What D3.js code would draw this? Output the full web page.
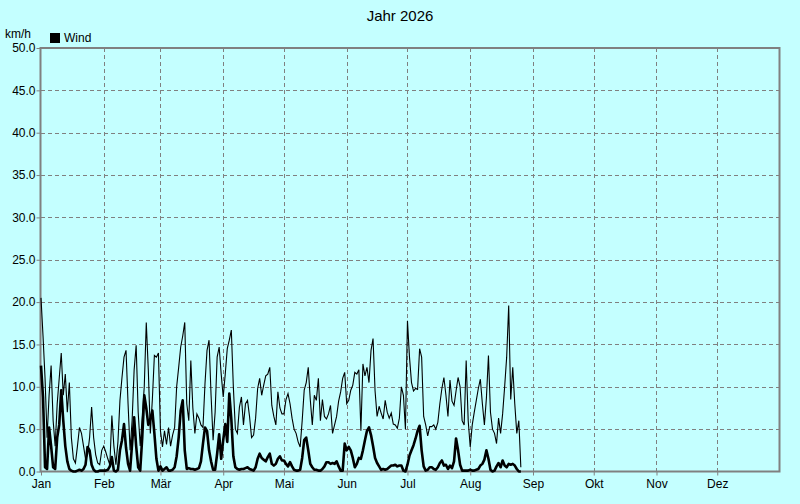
<!DOCTYPE html>
<html>
<head>
<meta charset="utf-8">
<script src="https://cdn.jsdelivr.net/npm/d3@7"></script>
<style>
  body { margin: 0; background: #c4ffff; }
  svg { display: block; font-family: "Liberation Sans", Arial, sans-serif; }
</style>
</head>
<body>
<svg class="chart" width="800" height="504"></svg>
<script>
// tageswerte ab 1. Januar (Index = Tag im Jahr)
var monthNames = ["Jan","Feb","Mär","Apr","Mai","Jun","Jul","Aug","Sep","Okt","Nov","Dez"];
var monthDays = [31,28,31,30,31,30,31,31,30,31,30,31];
var yTicks = [0,5,10,15,20,25,30,35,40,45,50];

// duenne Linie (Boeen)
var gust = [
  20.5,16,11,4,9,12.5,6,3,8,11,14,9,11.5,7,10.5,4,1.5,1,3,5.2,4.5,3,1.5,2,4,7.6,4,2,1,0.8,2.5,
  3,2.3,1.5,0.8,6.6,3,0.8,3.5,8.4,11.1,13.5,14.3,8,2.5,6,12,14.9,7,3,6.5,10,17.6,12,4.5,8.5,13.7,13.5,14,
  4.8,2.9,4.8,3.2,5.2,3,4.3,5.2,10,12.3,14.7,16,17.6,8,6,13.1,7.5,4.5,6.8,6.3,5.5,5.2,10.4,14.3,15.5,9,3.7,7,13.5,14.7,11.5,
  8.8,11.5,14.5,15.5,16.7,10,5,4.5,7.6,8.8,5.5,8,8.4,6.5,4,4.3,6.3,9.8,11,9,10.2,11.3,11.5,12.3,7.8,6.5,5.5,9.4,7.5,6.8,
  6.8,8.5,9.2,8,6.3,5,4.5,3.5,2.9,6,9.6,10.5,12.3,8.5,5.5,9,8.4,11,6,8.5,6.5,6.2,6.8,7.8,4.5,5.5,6.5,8.3,9.4,11,11.7,
  8,8.4,9.6,10.2,11.7,11.5,12,4.8,12.7,11.3,12.3,10.5,14.3,15.7,9.5,6.5,7.7,6.9,6.2,8.4,7,6.3,6.9,5.6,5.5,5.1,6.3,10,9,5,
  17.8,13.5,10.5,9.5,9.8,9.7,14.5,13.5,6.5,5.5,4.2,5.3,5.3,5.5,5,5.8,8,9.8,11.1,9,6.5,10.8,8.3,7.8,9.5,11.1,10,6,5.5,13.1,6,
  2.9,5.5,7,8.4,9.8,10.9,8,5.5,8.7,13.7,7,5,4.5,3.3,6.3,4.5,6.8,10,13.5,19.6,8.5,12.3,8,4.5,6,0.5
];

// dicke Linie (Mittel)
var wind = [
  12.5,8.8,0.5,0.3,5.2,3,0.5,0.3,4,5.5,9.6,6,3,1.2,0.3,0.1,0,0,0.1,0.2,0.1,0.3,0.8,2.9,2.5,0.8,0.2,0,0,0.1,0.1,
  0.1,0.1,0.2,0.6,1.7,0.1,0,0.2,2.5,3.7,5.6,2.8,0.9,0.1,3.3,6.4,3,0.5,0.1,4,9,7.5,5.5,6.2,7.2,4.5,1.5,0.1,
  0.6,0.1,0.3,0.5,0.1,0.1,0.2,0.5,1.8,4,7.2,8.4,2.5,0.3,0.4,0.3,0.3,0.2,0.3,0.4,1.2,3.3,5.2,4.8,2.5,1.2,0.2,0.2,2.1,4.4,1.5,
  3.7,5.6,3.5,9.2,6.2,1.8,0.5,0.3,0.2,0.3,0.3,0.4,0.5,0.3,0.2,0.1,0.5,1.5,2.1,1.6,1.4,1.2,1.7,2.1,0.9,0.7,0.9,1.5,1.8,1.3,
  1.3,0.9,0.6,1.1,0.6,0.2,0.1,0.1,0.2,1.6,3.7,4,2.5,0.9,0.5,0.2,0.2,0.1,0.1,0.3,0.6,1.1,1.1,0.9,1,0.9,1.2,0.6,0.1,0.1,3.3,
  2.5,2.9,2.5,1.6,0.5,0.9,1.6,1.5,2.5,3.7,4.8,5.2,4.3,3,1.6,1,0.6,0.2,0.3,0.2,0.3,0.5,0.7,0.7,0.8,0.6,0.7,0.7,0.1,0,
  0.8,1.9,2.5,3.1,3.9,4.8,5.4,2.5,0.6,0.1,0.2,0.5,0.5,0.3,0.2,0.5,1,1.3,0.7,0.8,0.3,0.7,0.4,1.2,3.9,2.5,0.8,0.1,0.1,0.1,0.1,
  0.2,0.1,0.1,0.2,0.3,0.7,0.9,1.4,2.5,1.5,0.2,0,0.1,0.6,1,0.5,1.3,0.7,0.5,0.9,0.8,0.9,0.7,0.3,0,0
];

var chart = d3.select(".chart"),
    plotLeft = 41, plotRight = 780, plotTop = 48, plotBottom = 471.5;

var xScale = d3.scaleLinear().domain([0, 365]).range([plotLeft, plotRight]);
var yScale = d3.scaleLinear().domain([0, 50]).range([plotBottom, plotTop]);

var monthStart = Array.from(d3.cumsum([0].concat(monthDays.slice(0, 11))));

// gitter
chart.append("g")
  .selectAll("line")
  .data(yTicks.filter(function(d){ return d > 0 && d < 50; }))
  .join("line")
    .attr("x1", plotLeft).attr("x2", plotRight)
    .attr("y1", function(d){ return Math.round(yScale(d)) + 0.5; })
    .attr("y2", function(d){ return Math.round(yScale(d)) + 0.5; })
    .attr("stroke", "#808080")
    .attr("stroke-dasharray", "4,3");

chart.append("g")
  .selectAll("line")
  .data(monthStart.slice(1))
  .join("line")
    .attr("x1", function(d){ return Math.round(xScale(d)) + 0.5; })
    .attr("x2", function(d){ return Math.round(xScale(d)) + 0.5; })
    .attr("y1", plotTop).attr("y2", plotBottom)
    .attr("stroke", "#808080")
    .attr("stroke-dasharray", "4,3");

// achsen
var yAxis = d3.axisLeft(yScale)
  .tickValues(yTicks)
  .tickSize(4)
  .tickFormat(d3.format(".1f"));

var xAxis = d3.axisBottom(xScale)
  .tickValues(monthStart)
  .tickSize(4)
  .tickFormat(function(d, i){ return monthNames[i]; });

var gy = chart.append("g")
  .attr("transform", "translate(" + (plotLeft - 0.5) + ",0)")
  .call(yAxis);
gy.select(".domain").remove();
gy.selectAll("line").attr("stroke", "#808080");
gy.selectAll("text").attr("font-size", 12).attr("fill", "#000")
  .attr("font-family", "Liberation Sans, Arial, sans-serif").attr("x", -5);

var gx = chart.append("g")
  .attr("transform", "translate(0," + plotBottom + ")")
  .call(xAxis);
gx.select(".domain").remove();
gx.selectAll("line").attr("stroke", "#808080");
gx.selectAll("text").attr("font-size", 12).attr("fill", "#000")
  .attr("font-family", "Liberation Sans, Arial, sans-serif").attr("y", 8);

// rahmen
chart.append("rect")
  .attr("x", plotLeft - 0.5).attr("y", plotTop)
  .attr("width", plotRight - plotLeft).attr("height", plotBottom - plotTop)
  .attr("fill", "none")
  .attr("stroke", "#808080")
  .attr("stroke-width", 2);

// linien
var line = d3.line()
  .x(function(d, i){ return xScale(i); })
  .y(function(d){ return yScale(d); });

chart.append("path")
  .datum(gust)
  .attr("d", line)
  .attr("fill", "none")
  .attr("stroke", "#000")
  .attr("stroke-width", 1.1);

chart.append("path")
  .datum(wind)
  .attr("d", line)
  .attr("fill", "none")
  .attr("stroke", "#000")
  .attr("stroke-width", 2.6)
  .attr("stroke-linejoin", "round");

// titel + einheit + legende
chart.append("text")
  .attr("x", 400).attr("y", 21)
  .attr("text-anchor", "middle")
  .attr("font-size", 15)
  .text("Jahr 2026");

chart.append("text")
  .attr("x", 5).attr("y", 38)
  .attr("font-size", 12)
  .text("km/h");

chart.append("rect")
  .attr("x", 50).attr("y", 33)
  .attr("width", 10).attr("height", 10)
  .attr("fill", "#000");

chart.append("text")
  .attr("x", 64).attr("y", 42)
  .attr("font-size", 12)
  .text("Wind");
</script>
</body>
</html>
